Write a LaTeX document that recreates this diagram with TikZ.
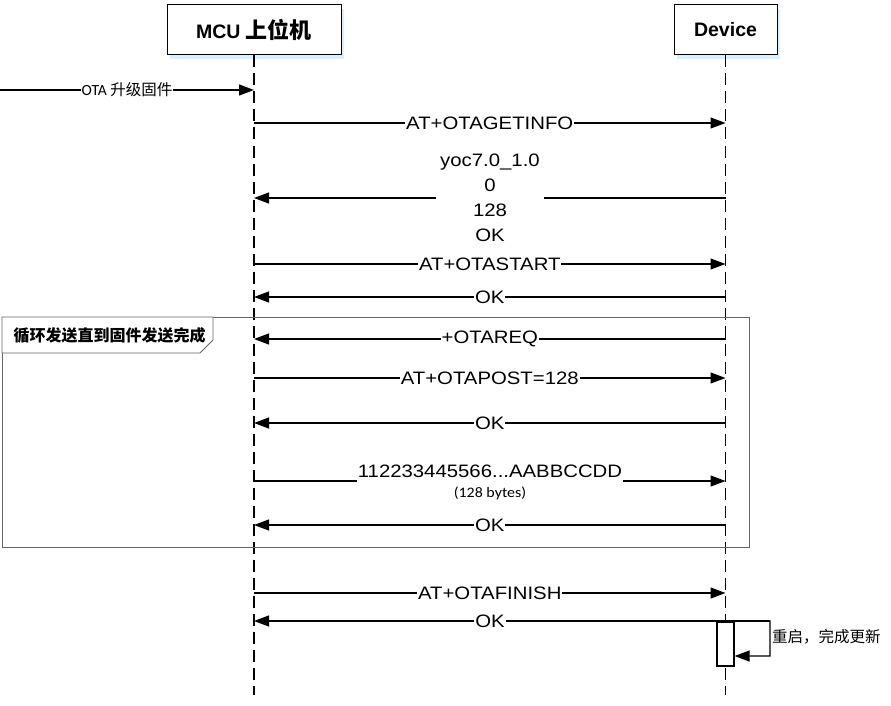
\documentclass[tikz,border=0pt]{standalone}
\usepackage{fontspec}
\setmainfont{Liberation Sans}
\newfontfamily\msgfont[FakeStretch=1.13]{Liberation Sans}
\newfontfamily\cjk{Noto Sans CJK SC}
\newfontfamily\calfont[FakeStretch=1.1]{Carlito}
\newfontfamily\calplain{Carlito}
\usetikzlibrary{arrows.meta,shadows}
\begin{document}
\begin{tikzpicture}[x=1pt,y=-1pt,
  lifebox/.style={draw, line width=1pt, fill=white, font=\bfseries\fontsize{19.5}{22}\selectfont,
     drop shadow={shadow xshift=3pt,shadow yshift=-4pt,fill=blue!40!cyan!25,opacity=0.6}},
  lifeline/.style={line width=1.4pt, dash pattern=on 12pt off 6pt},
  msg/.style={draw, line width=1.2pt, -{Triangle[length=15pt,width=11pt]}},
  lbl/.style={fill=white, inner xsep=1pt, inner ysep=1pt, font=\msgfont\fontsize{18}{20}\selectfont},
  framestyle/.style={draw=black!60, line width=0.8pt}]
\useasboundingbox (0,0) rectangle (891,706);
\node[lifebox, minimum width=174pt, minimum height=50pt] (mcu) at (254,30) {MCU {\cjk\fontsize{22}{24}\selectfont 上位机}};
\node[lifebox, minimum width=103pt, minimum height=50pt] (dev) at (725.5,30) {Device};
\draw[lifeline] (mcu.south) -- (mcu.south |- 0,695) coordinate (mcuend);
\draw[lifeline] (dev.south) -- (dev.south |- 0,695) coordinate (devend);
% loop frame
\draw[framestyle] (2,317) rectangle (749,547);
\draw[framestyle, fill=white] (2,317) -- (213,317) -- (213,340) -- (200,353) -- (2,353) -- cycle;
\node[anchor=west, font=\cjk\bfseries\fontsize{16}{18}\selectfont] (looplbl) at (10,335) {循环发送直到固件发送完成};
% messages
\coordinate (src) at (0,90);
\draw[msg] (src) -- (mcu.south |- 0,90) node[midway, fill=white, inner sep=1pt] (m0) {\calplain\fontsize{15.5}{17}\selectfont OTA {\cjk\fontsize{15.5}{17}\selectfont 升级固件}};
\draw[msg] (mcu.south |- 0,123) -- (dev.south |- 0,123) node[midway, lbl] (m1) {AT+OTAGETINFO};
\draw[msg] (dev.south |- 0,198) -- (mcu.south |- 0,198);
\node[lbl, align=center, inner xsep=4pt, font=\msgfont\fontsize{18}{25}\selectfont] (m2) at (490,197.5) {yoc7.0\_1.0\\0\\128\\OK};
\draw[msg] (mcu.south |- 0,264) -- (dev.south |- 0,264) node[midway, lbl] (m3) {AT+OTASTART};
\draw[msg] (dev.south |- 0,297) -- (mcu.south |- 0,297) node[midway, lbl] (m4) {OK};
\draw[msg] (dev.south |- 0,339) -- (mcu.south |- 0,339) node[midway, lbl] (m5) {+OTAREQ};
\draw[msg] (mcu.south |- 0,378) -- (dev.south |- 0,378) node[midway, lbl] (m6) {AT+OTAPOST=128};
\draw[msg] (dev.south |- 0,423) -- (mcu.south |- 0,423) node[midway, lbl] (m7) {OK};
\draw[msg] (mcu.south |- 0,481) -- (dev.south |- 0,481);
\node[fill=white, inner xsep=1pt, inner ysep=0pt, anchor=base, text depth=6pt, font=\msgfont\fontsize{18}{20}\selectfont] (m8) at (490,477) {112233445566...AABBCCDD};
\node[font=\calfont\fontsize{14.5}{16}\selectfont] (m8b) at (490,493) {(128 bytes)};
\draw[msg] (dev.south |- 0,525) -- (mcu.south |- 0,525) node[midway, lbl] (m9) {OK};
\draw[msg] (mcu.south |- 0,593) -- (dev.south |- 0,593) node[midway, lbl] (m10) {AT+OTAFINISH};
\coordinate (selfr) at (770,621);
\draw[msg] (selfr) -- (mcu.south |- 0,621);
\node[lbl, inner ysep=0pt] (m11) at (490,621) {OK};
% activation
\node[draw, line width=1.2pt, fill=white, minimum width=17pt, minimum height=44pt, inner sep=0pt] (act) at (725.5,644) {};
\draw[msg] (act.north east) -- (selfr) -- (770,656) coordinate (selfb) -- (act.east |- selfb);
\node[anchor=west, inner sep=1pt, font=\cjk\fontsize{15.5}{17}\selectfont] (m12) at (771,637) {重启，完成更新};
\end{tikzpicture}
\end{document}
